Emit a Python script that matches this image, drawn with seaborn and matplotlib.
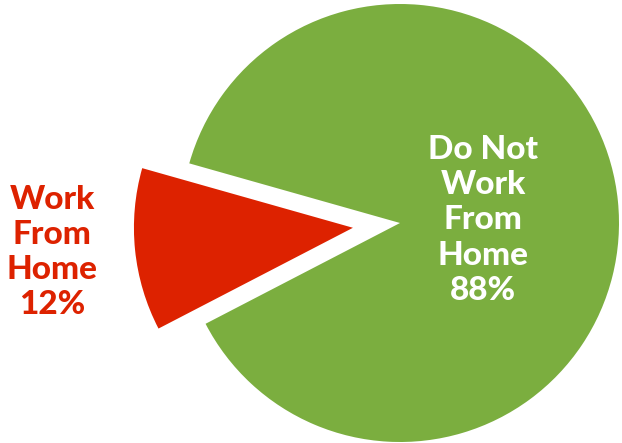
import matplotlib
matplotlib.use("Agg")
import matplotlib.pyplot as plt
import seaborn as sns

categories = ["Work\nFrom\nHome", "Do Not\nWork\nFrom\nHome"]
shares = [12, 88]
colors = ["#DD2200", "#7BAE3F"]
explode = [0.216, 0.0]

sns.set_theme(style="white")
plt.rcParams['font.family'] = ['Lato', 'DejaVu Sans']

fig = plt.figure(figsize=(6.22, 4.43), dpi=100)
ax = fig.add_axes([0, 0, 1, 1])
wedges, _ = ax.pie(shares, colors=colors, explode=explode, startangle=164.2,
                   counterclock=True, radius=1.0,
                   wedgeprops=dict(linewidth=0))
ax.set_aspect('auto')
ax.set_xlim(-400/219, 222/219)
ax.set_ylim(-220/219, 223/219)
ax.axis('off')

ax.text(-1.589, -0.132, f"{categories[0]}\n{shares[0]}%", color=colors[0],
        ha='center', va='center', fontsize=24, fontweight='black', linespacing=1.26)
ax.text(0.379, 0.0137, f"{categories[1]}\n{shares[1]}%", color='white',
        ha='center', va='center', fontsize=24, fontweight='black', linespacing=1.26)

fig.savefig("out.png", dpi=100)
